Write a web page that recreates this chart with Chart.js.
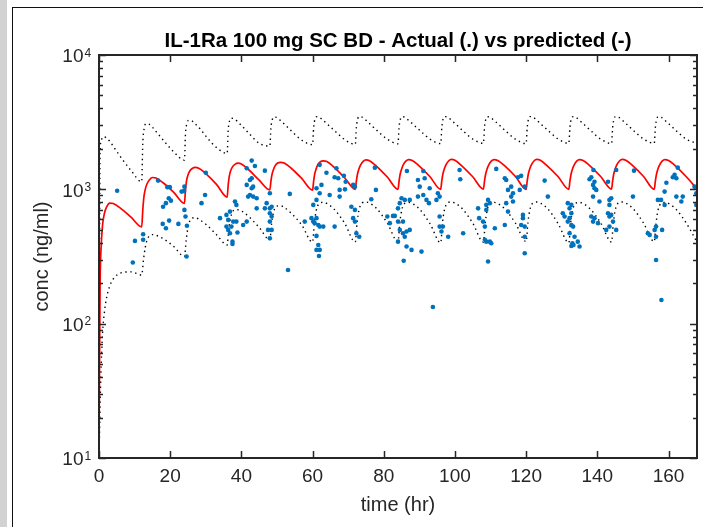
<!DOCTYPE html>
<html>
<head>
<meta charset="utf-8">
<script src="https://cdn.jsdelivr.net/npm/chart.js@4"></script>
<style>
  html, body { margin: 0; padding: 0; background: #fff; }
  #wrap { position: relative; width: 703px; height: 527px; overflow: hidden; }
  #strip { position: absolute; left: 0; top: 0; width: 7px; height: 527px; background: #d2d2d2; }
  #frame { position: absolute; left: 12px; top: 7px; width: 700px; height: 540px; border-left: 1px solid #111; border-top: 1px solid #111; }
  canvas { position: absolute; left: 0; top: 0; }
</style>
</head>
<body>
<div id="wrap">
  <div id="strip"></div>
  <div id="frame"></div>
  <canvas id="pkChart" width="703" height="527"></canvas>
</div>
<script>
// axis ticks
var xTicks = [0, 20, 40, 60, 80, 100, 120, 140, 160];
var yTicks = [10, 100, 1000, 10000];
var yExps = ["1", "2", "3", "4"];

// observed concentrations (blue dots)
var obsTime = [5.1, 9.5, 10.1, 12.4, 12.4, 16.6, 19.2, 19.9, 18.0, 18.8, 19.6, 20.2, 17.9, 19.7, 18.8, 22.3,
  23.2, 23.9, 24.0, 24.0, 24.3, 24.7, 24.6, 28.8, 29.8, 30.0, 34.0, 35.8, 36.8, 36.3, 37.2, 38.2, 38.6,
  37.7, 38.6, 35.8, 36.3, 36.8, 37.5, 37.5, 38.9, 41.5, 40.5, 41.5, 42.4, 43.3, 42.9, 42.4, 41.9, 43.3,
  44.3, 42.9, 43.8, 41.5, 46.6, 42.9, 44.3, 46.6, 47.1, 48.0, 48.5, 48.0, 48.0, 48.5, 48.0, 47.5, 48.5,
  48.0, 53.1, 53.6, 57.8, 59.7, 60.2, 60.6, 61.1, 61.6, 62.0, 63.0, 60.2, 61.1, 62.0, 62.0, 61.1, 62.5,
  63.9, 64.8, 61.1, 61.6, 61.1, 62.0, 61.8, 66.2, 66.7, 66.2, 67.2, 68.8, 69.3, 67.6, 67.6, 69.1, 71.4,
  71.9, 70.9, 71.9, 71.4, 71.9, 72.3, 73.1, 76.5, 77.8, 77.5, 81.0, 82.6, 84.0, 84.0,
  81.7, 83.1, 84.0, 84.5, 85.0, 85.9, 86.5, 87.3, 85.4, 84.5, 85.4, 86.4, 87.3, 85.9, 86.4, 87.8, 85.6,
  90.6, 89.6, 90.1, 91.1, 91.5, 92.9, 92.0, 89.6, 91.1, 92.7, 94.8, 95.7, 95.2, 95.7, 95.7, 96.6, 96.2,
  98.1, 101.3, 101.5, 102.3, 93.8, 106.5, 106.8, 107.9, 108.4, 108.8, 108.8, 109.3, 109.8, 108.4, 108.8,
  109.8, 110.2, 109.3, 111.2, 111.6, 114.0, 114.4, 114.9, 115.8, 116.3, 115.8, 116.3, 114.4, 114.9, 114.0,
  117.7, 118.6, 118.2, 119.6, 119.1, 119.1, 118.6, 119.6, 119.6, 119.6, 125.2, 126.1, 130.3, 130.8, 131.7,
  132.2, 132.7, 132.7, 132.2, 131.7, 132.7, 133.2, 132.2, 133.6, 133.0, 132.7, 133.3, 135.0, 134.5, 137.8,
  138.3, 138.8, 139.2, 139.2, 139.7, 138.8, 138.9, 138.3, 139.2, 138.8, 140.2, 140.6, 143.0, 143.4, 143.9,
  143.4, 143.0, 143.9, 143.4, 142.5, 143.4, 144.4, 145.3, 145.3, 150.0, 150.3, 154.2, 154.7, 156.1, 156.5,
  156.5, 156.5, 157.0, 157.9, 158.2, 158.9, 158.9, 159.4, 161.2, 161.7, 162.2, 162.6, 162.2, 163.6, 164.0,
  167.8, 167.8, 167.3, 158.0];
var obsConc = [977, 285, 413, 463, 421, 1161, 1038, 1038, 741, 789, 859, 824, 553, 585, 513, 553,
  962, 970, 1047, 703, 627, 535, 316, 789, 908, 1330, 610, 645, 683, 592, 528, 811, 766,
  575, 575, 528, 499, 471, 408, 392, 477, 575, 543, 1079, 1174, 1047, 1019, 908, 883, 883,
  859, 1637, 1493, 1435, 1377, 1210, 722, 722, 789, 722, 741, 935, 664, 627, 575, 499, 499,
  432, 251, 925, 575, 610, 575, 560, 610, 543, 528, 528, 766, 834, 935, 1521, 1019, 1079,
  1330, 908, 450, 385, 354, 354, 319, 528, 1435, 1230, 1210, 1260, 1140, 990, 883, 1000, 1079,
  1047, 741, 703, 610, 575, 471, 444, 844, 990, 1450, 627, 634, 575, 408,
  560, 634, 722, 789, 859, 834, 1370, 834, 575, 499, 471, 485, 499, 444, 375, 354, 294,
  344, 1174, 1047, 1370, 1210, 1019, 834, 883, 908, 789, 834, 883, 935, 627, 528, 528, 485,
  444, 1393, 1190, 471, 133, 722, 610, 575, 528, 703, 766, 834, 789, 421, 408,
  408, 397, 290, 513, 1419, 1210, 1174, 990, 1047, 935, 883, 811, 789, 683, 543,
  1230, 1260, 990, 1047, 645, 610, 543, 528, 444, 334, 1161, 883, 664, 627, 789,
  722, 766, 664, 610, 575, 543, 528, 471, 444, 397, 379, 385, 375, 408, 1190,
  1230, 1079, 1019, 1140, 990, 883, 1393, 627, 610, 575, 560, 811, 1140, 834, 859,
  766, 664, 645, 627, 499, 528, 575, 499, 1393, 883, 1377, 471, 458, 499, 528,
  444, 298, 834, 834, 499, 766, 962, 1119, 1230, 1282, 1210, 1450, 883, 811, 883,
  935, 766, 1047, 150];

// predicted mean (red line)
var predTime = [0, 0.3, 0.6, 1, 1.5, 2.2, 3, 4, 6, 9,
  12, 12.3, 12.6, 13, 13.5, 14.2, 15, 16, 18, 21,
  24, 24.3, 24.6, 25, 25.5, 26.2, 27, 28, 30, 33,
  36, 36.3, 36.6, 37, 37.5, 38.2, 39, 40, 42, 45,
  48, 48.3, 48.6, 49, 49.5, 50.2, 51, 52, 54, 57,
  60, 60.3, 60.6, 61, 61.5, 62.2, 63, 64, 66, 69,
  72, 72.3, 72.6, 73, 73.5, 74.2, 75, 76, 78, 81,
  84, 84.3, 84.6, 85, 85.5, 86.2, 87, 88, 90, 93,
  96, 96.3, 96.6, 97, 97.5, 98.2, 99, 100, 102, 105,
  108, 108.3, 108.6, 109, 109.5, 110.2, 111, 112, 114, 117,
  120, 120.3, 120.6, 121, 121.5, 122.2, 123, 124, 126, 129,
  132, 132.3, 132.6, 133, 133.5, 134.2, 135, 136, 138, 141,
  144, 144.3, 144.6, 145, 145.5, 146.2, 147, 148, 150, 153,
  156, 156.3, 156.6, 157, 157.5, 158.2, 159, 160, 162, 165,
  168];
var predConc = [12, 190, 370, 540, 660, 745, 790, 785, 725, 620,
  525, 700, 870, 1000, 1100, 1180, 1225, 1215, 1120, 950,
  785, 990, 1160, 1280, 1370, 1430, 1455, 1435, 1310, 1090,
  875, 1080, 1250, 1380, 1470, 1535, 1565, 1545, 1405, 1170,
  990, 1150, 1290, 1400, 1500, 1570, 1590, 1570, 1435, 1200,
  985, 1150, 1300, 1420, 1530, 1605, 1630, 1610, 1465, 1220,
  1000, 1150, 1290, 1410, 1520, 1615, 1655, 1635, 1485, 1235,
  1000, 1150, 1295, 1410, 1525, 1620, 1665, 1640, 1490, 1240,
  1000, 1155, 1295, 1415, 1525, 1625, 1670, 1645, 1490, 1240,
  1005, 1150, 1290, 1410, 1520, 1620, 1665, 1640, 1495, 1245,
  1000, 1155, 1295, 1415, 1525, 1625, 1670, 1645, 1490, 1240,
  1000, 1150, 1290, 1410, 1520, 1620, 1665, 1640, 1490, 1240,
  1005, 1155, 1295, 1415, 1525, 1625, 1670, 1645, 1495, 1245,
  1000, 1150, 1290, 1410, 1520, 1620, 1665, 1640, 1490, 1240,
  1005];

// upper and lower prediction bounds (black dotted)
var upperTime = [0, 0.3, 0.7, 1.2, 2, 3, 4.5, 6.5, 9,
  12, 12.3, 12.7, 13.2, 14, 15, 16.5, 18.5, 21,
  24, 24.3, 24.7, 25.2, 26, 27, 28.5, 30.5, 33,
  36, 36.3, 36.7, 37.2, 38, 39, 40.5, 42.5, 45,
  48, 48.3, 48.7, 49.2, 50, 51, 52.5, 54.5, 57,
  60, 60.3, 60.7, 61.2, 62, 63, 64.5, 66.5, 69,
  72, 72.3, 72.7, 73.2, 74, 75, 76.5, 78.5, 81,
  84, 84.3, 84.7, 85.2, 86, 87, 88.5, 90.5, 93,
  96, 96.3, 96.7, 97.2, 98, 99, 100.5, 102.5, 105,
  108, 108.3, 108.7, 109.2, 110, 111, 112.5, 114.5, 117,
  120, 120.3, 120.7, 121.2, 122, 123, 124.5, 126.5, 129,
  132, 132.3, 132.7, 133.2, 134, 135, 136.5, 138.5, 141,
  144, 144.3, 144.7, 145.2, 146, 147, 148.5, 150.5, 153,
  156, 156.3, 156.7, 157.2, 158, 159, 160.5, 162.5, 165,
  168];
var upperConc = [15, 1900, 2350, 2470, 2420, 2280, 2000, 1680, 1380,
  1140, 2200, 2850, 3080, 3060, 2900, 2600, 2250, 1900,
  1650, 2600, 3100, 3260, 3240, 3080, 2800, 2400, 2050,
  1850, 2750, 3250, 3380, 3350, 3180, 2900, 2550, 2200,
  2100, 2850, 3320, 3450, 3420, 3250, 2980, 2650, 2320,
  2150, 2880, 3350, 3470, 3430, 3260, 3000, 2680, 2350,
  2160, 2880, 3360, 3480, 3440, 3270, 3000, 2680, 2360,
  2180, 2890, 3350, 3470, 3430, 3260, 3000, 2690, 2360,
  2190, 2880, 3360, 3480, 3440, 3270, 3010, 2690, 2370,
  2200, 2890, 3350, 3470, 3430, 3260, 3000, 2680, 2360,
  2190, 2880, 3360, 3480, 3440, 3270, 3000, 2690, 2370,
  2200, 2890, 3350, 3470, 3430, 3260, 3000, 2680, 2360,
  2190, 2880, 3360, 3480, 3440, 3270, 3010, 2690, 2370,
  2200, 2890, 3350, 3470, 3430, 3260, 3000, 2680, 2360,
  2200];
var lowerTime = [0, 0.5, 1, 1.5, 2, 3, 4, 6, 9,
  12, 12.5, 13, 13.5, 14, 15, 16, 18, 21,
  24, 24.5, 25, 25.5, 26, 27, 28, 30, 33,
  36, 36.5, 37, 37.5, 38, 39, 40, 42, 45,
  48, 48.5, 49, 49.5, 50, 51, 52, 54, 57,
  60, 60.5, 61, 61.5, 62, 63, 64, 66, 69,
  72, 72.5, 73, 73.5, 74, 75, 76, 78, 81,
  84, 84.5, 85, 85.5, 86, 87, 88, 90, 93,
  96, 96.5, 97, 97.5, 98, 99, 100, 102, 105,
  108, 108.5, 109, 109.5, 110, 111, 112, 114, 117,
  120, 120.5, 121, 121.5, 122, 123, 124, 126, 129,
  132, 132.5, 133, 133.5, 134, 135, 136, 138, 141,
  144, 144.5, 145, 145.5, 146, 147, 148, 150, 153,
  156, 156.5, 157, 157.5, 158, 159, 160, 162, 165,
  168];
var lowerConc = [10, 40, 85, 120, 150, 190, 215, 238, 243,
  230, 300, 370, 420, 445, 460, 455, 430, 375,
  316, 420, 520, 580, 605, 615, 600, 550, 460,
  385, 520, 620, 680, 700, 705, 690, 630, 520,
  421, 560, 670, 730, 750, 755, 735, 665, 540,
  405, 560, 690, 760, 790, 800, 785, 715, 560,
  405, 565, 695, 765, 795, 805, 790, 720, 560,
  408, 560, 690, 760, 790, 800, 785, 715, 555,
  400, 565, 695, 765, 795, 805, 790, 720, 560,
  405, 560, 690, 760, 790, 800, 785, 715, 560,
  408, 565, 695, 765, 795, 805, 790, 720, 555,
  400, 560, 690, 760, 790, 800, 785, 715, 560,
  405, 565, 695, 765, 795, 805, 790, 720, 560,
  408, 560, 690, 760, 790, 800, 785, 715, 560,
  405];

function pts(t, c) {
  return t.map(function (v, i) { return { x: v, y: c[i] }; });
}

var fontFam = "'Liberation Sans', Arial, Helvetica, sans-serif";
var axisColor = "#262626";

// inward MATLAB-style ticks, axes box and the exponents of the y labels
var boxTicks = {
  id: "boxTicks",
  afterDraw: function (chart) {
    var ctx = chart.ctx;
    var a = chart.chartArea;
    var x = chart.scales.x;
    var y = chart.scales.y;
    ctx.save();
    ctx.strokeStyle = axisColor;
    ctx.lineWidth = 1.5;
    ctx.beginPath();
    xTicks.forEach(function (v) {
      var px = Math.round(x.getPixelForValue(v)) + 0.5;
      ctx.moveTo(px, a.bottom);
      ctx.lineTo(px, a.bottom - 7);
      ctx.moveTo(px, a.top);
      ctx.lineTo(px, a.top + 7);
    });
    for (var e = 1; e <= 4; e++) {
      for (var k = 1; k <= 9; k++) {
        var v = k * Math.pow(10, e);
        if (v > 10000) break;
        var py = Math.round(y.getPixelForValue(v)) + 0.5;
        var len = k === 1 ? 7 : 4;
        ctx.moveTo(a.left, py);
        ctx.lineTo(a.left + len, py);
        ctx.moveTo(a.right, py);
        ctx.lineTo(a.right - len, py);
      }
    }
    ctx.stroke();
    ctx.lineWidth = 2;
    ctx.strokeRect(a.left, a.top, a.right - a.left, a.bottom - a.top);

    ctx.fillStyle = axisColor;
    ctx.font = "12px " + fontFam;
    ctx.textAlign = "left";
    ctx.textBaseline = "alphabetic";
    yTicks.forEach(function (v, i) {
      var py = y.getPixelForValue(v);
      ctx.fillText(yExps[i], 84.5, py + 1.5);
    });
    ctx.restore();
  }
};

var ctx = document.getElementById("pkChart").getContext("2d");

var data = {
  datasets: [
    {
      label: "Actual",
      data: pts(obsTime, obsConc),
      pointRadius: 2.3,
      pointBackgroundColor: "#0072BD",
      pointBorderWidth: 0,
      showLine: false,
    },
    {
      label: "Predicted",
      data: pts(predTime, predConc),
      showLine: true,
      borderColor: "#FF0000",
      borderWidth: 1.7,
      pointRadius: 0,
      cubicInterpolationMode: "monotone",
    },
    {
      label: "Upper",
      data: pts(upperTime, upperConc),
      showLine: true,
      borderColor: "#000000",
      borderWidth: 1.4,
      borderDash: [1.4, 3.6],
      pointRadius: 0,
      cubicInterpolationMode: "monotone",
    },
    {
      label: "Lower",
      data: pts(lowerTime, lowerConc),
      showLine: true,
      borderColor: "#000000",
      borderWidth: 1.4,
      borderDash: [1.4, 3.6],
      pointRadius: 0,
      cubicInterpolationMode: "monotone",
    },
  ],
};

var options = {
  responsive: false,
  animation: false,
  layout: { padding: { left: 0, right: 6, top: 0, bottom: 0 } },
  plugins: {
    legend: { display: false },
    tooltip: { enabled: false },
  },
  scales: {
    x: {
      type: "linear",
      min: 0,
      max: 168,
      afterBuildTicks: function (s) { s.ticks = xTicks.map(function (v) { return { value: v }; }); },
      afterFit: function (s) { s.height = 69; },
      grid: { display: false, drawTicks: false },
      border: { display: false },
      ticks: { color: axisColor, padding: 7, maxRotation: 0, font: { family: fontFam, size: 19 } },
      title: {
        display: true,
        text: "time (hr)",
        color: axisColor,
        font: { family: fontFam, size: 20 },
        padding: { top: 0, bottom: 9.5 },
      },
    },
    // top axis only carries the title so it is centred over the plot box
    top: {
      type: "linear",
      position: "top",
      min: 0,
      max: 168,
      afterFit: function (s) { s.height = 55; },
      grid: { display: false, drawTicks: false },
      border: { display: false },
      ticks: { display: false },
      title: {
        display: true,
        text: "IL-1Ra 100 mg SC BD - Actual (.) vs predicted (-)",
        color: "#000",
        font: { family: fontFam, size: 20.5, weight: "bold" },
        padding: { top: 29.5, bottom: 0 },
      },
    },
    y: {
      type: "logarithmic",
      min: 10,
      max: 10000,
      afterBuildTicks: function (s) { s.ticks = yTicks.map(function (v) { return { value: v }; }); },
      afterFit: function (s) { s.width = 99; },
      grid: { display: false, drawTicks: false },
      border: { display: false },
      ticks: {
        color: axisColor,
        padding: 15.5,
        labelOffset: 2,
        font: { family: fontFam, size: 19 },
        callback: function () { return "10"; },
      },
      title: {
        display: true,
        text: "conc (ng/ml)",
        color: axisColor,
        font: { family: fontFam, size: 20 },
        padding: { top: 30, bottom: 0 },
      },
    },
  },
};

new Chart(ctx, {
  type: "scatter",
  data: data,
  options: options,
  plugins: [boxTicks],
});
</script>
</body>
</html>
